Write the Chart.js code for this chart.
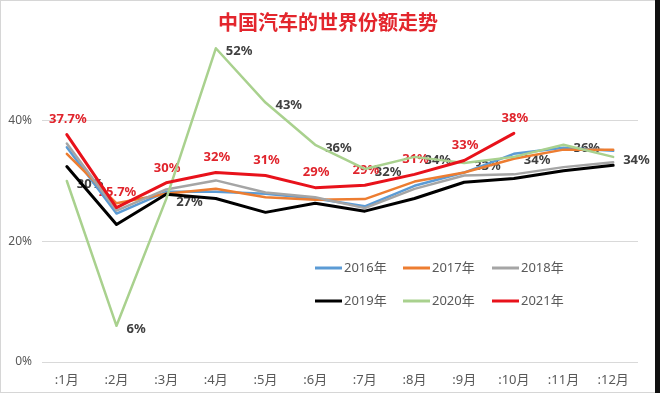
<!DOCTYPE html>
<html><head><meta charset="utf-8">
<script src="https://cdn.jsdelivr.net/npm/chart.js@4.4.0/dist/chart.umd.min.js"></script>
<style>html,body{margin:0;padding:0;background:#fff}#wrap{width:660px;height:393px;position:relative}</style>
</head><body><div id="wrap"><canvas id="c" width="660" height="393"></canvas></div>
<script>
const months = [':1月', ':2月', ':3月', ':4月', ':5月', ':6月', ':7月', ':8月', ':9月', ':10月', ':11月', ':12月'];
const yTickValues = [0, 20, 40];
const seriesNames = ['2016年', '2017年', '2018年', '2019年', '2020年', '2021年'];
const s2016 = [35.6, 24.6, 28.2, 28.2, 27.9, 27.1, 25.8, 29.2, 31.4, 34.5, 35.5, 35.0];
const s2017 = [34.5, 26.3, 27.9, 28.7, 27.3, 26.9, 27.0, 29.9, 31.4, 33.7, 35.2, 35.2];
const s2018 = [36.2, 25.1, 28.6, 30.1, 28.1, 27.3, 25.5, 28.7, 30.9, 31.1, 32.3, 33.1];
const s2019 = [32.4, 22.8, 27.8, 27.1, 24.8, 26.3, 25.0, 27.1, 29.8, 30.4, 31.7, 32.6];
const s2020 = [30, 6, 27, 52, 43, 36, 32, 34, 33, 34, 36, 34];
const s2021 = [37.7, 25.6, 29.7, 31.4, 30.9, 28.9, 29.3, 31.1, 33.4, 37.9];
const labels2020 = ['30%', '6%', '27%', '52%', '43%', '36%', '32%', '34%', '33%', '34%', '36%', '34%'];
const labels2021 = ['37.7%', '25.7%', '30%', '32%', '31%', '29%', '29%', '31%', '33%', '38%'];
const titleText = '中国汽车的世界份额走势';

const FONT = '"Noto Sans", "Noto Sans CJK SC", sans-serif';
const colors = ['#5B9BD5', '#ED7D31', '#A5A5A5', '#000000', '#A9D18E', '#E8121B'];
const widths = [2.5, 2.5, 2.5, 3, 2.5, 3];
const orders = [5, 4, 3, 2, 1, 0];
const allSeries = [s2016, s2017, s2018, s2019, s2020, s2021];

const datasets = allSeries.map((d, i) => ({
  label: seriesNames[i],
  data: d,
  borderColor: colors[i],
  backgroundColor: colors[i],
  borderWidth: widths[i],
  pointRadius: 0,
  tension: 0,
  fill: false,
  order: orders[i],
  borderJoinStyle: 'round',
  borderCapStyle: 'round'
}));

const overlay = {
  id: 'overlay',
  beforeDatasetsDraw(chart) {
    const ctx = chart.ctx;
    ctx.save();
    ctx.font = 'bold 13px ' + FONT;
    ctx.textBaseline = 'middle';
    // 2020 labels (right of point)
    const m20 = chart.getDatasetMeta(4);
    ctx.fillStyle = '#404040';
    ctx.textAlign = 'left';
    m20.data.forEach((p, i) => { if (labels2020[i]) ctx.fillText(labels2020[i], p.x + 10, p.y + 3); });
    // 2021 labels (above point)
    const m21 = chart.getDatasetMeta(5);
    ctx.fillStyle = '#E0242C';
    ctx.textAlign = 'center';
    m21.data.forEach((p, i) => { if (labels2021[i]) ctx.fillText(labels2021[i], p.x + 1, p.y - 15); });
    ctx.restore();
  },
  afterDraw(chart) {
    const ctx = chart.ctx;
    ctx.save();
    // title
    ctx.font = 'bold 20px ' + FONT;
    ctx.fillStyle = '#E3262D';
    ctx.textAlign = 'center';
    ctx.textBaseline = 'middle';
    ctx.fillText(titleText, 328, 24);
    // legend
    const colX = [315, 403, 492];
    const rowY = [268, 301];
    ctx.font = '13px ' + FONT;
    ctx.textAlign = 'left';
    chart.data.datasets.forEach((ds, i) => {
      const x = colX[i % 3], y = rowY[Math.floor(i / 3)];
      ctx.strokeStyle = ds.borderColor;
      ctx.lineWidth = 3;
      ctx.beginPath(); ctx.moveTo(x, y); ctx.lineTo(x + 27, y); ctx.stroke();
      ctx.fillStyle = '#595959';
      ctx.fillText(ds.label, x + 29, y);
    });
    // frame
    ctx.strokeStyle = '#d6d6d6';
    ctx.lineWidth = 1;
    ctx.strokeRect(0.5, 0.5, 659, 392);
    ctx.fillStyle = '#111';
    ctx.fillRect(655, 0, 5, 393);
    ctx.restore();
  }
};

new Chart(document.getElementById('c'), {
  type: 'line',
  data: { labels: months, datasets },
  options: {
    responsive: false,
    animation: false,
    devicePixelRatio: 1,
    layout: { padding: { left: 0, right: 22, top: 0, bottom: 0 } },
    plugins: { legend: { display: false }, title: { display: false }, tooltip: { enabled: false } },
    scales: {
      x: {
        offset: true,
        grid: { display: false, drawTicks: false },
        border: { display: false },
        ticks: { color: '#595959', font: { size: 13, family: FONT }, padding: 10, maxRotation: 0, autoSkip: false },
        afterFit(s) { s.height = 31; s.paddingLeft = 0; s.paddingRight = 0; }
      },
      y: {
        min: 0, max: 60,
        afterBuildTicks(s) { s.ticks = yTickValues.concat([60]).map(v => ({ value: v })); },
        grid: { drawTicks: false, color: c => (c.tick && yTickValues.includes(c.tick.value)) ? '#d9d9d9' : 'rgba(0,0,0,0)', lineWidth: 1 },
        border: { display: false },
        ticks: { color: '#595959', font: { size: 12, family: FONT }, padding: 10, callback: v => yTickValues.includes(v) ? v + '%' : '' },
        afterFit(s) { s.width = 42; s.paddingTop = 0; s.paddingBottom = 0; }
      }
    }
  },
  plugins: [overlay]
});
</script>
</body></html>
